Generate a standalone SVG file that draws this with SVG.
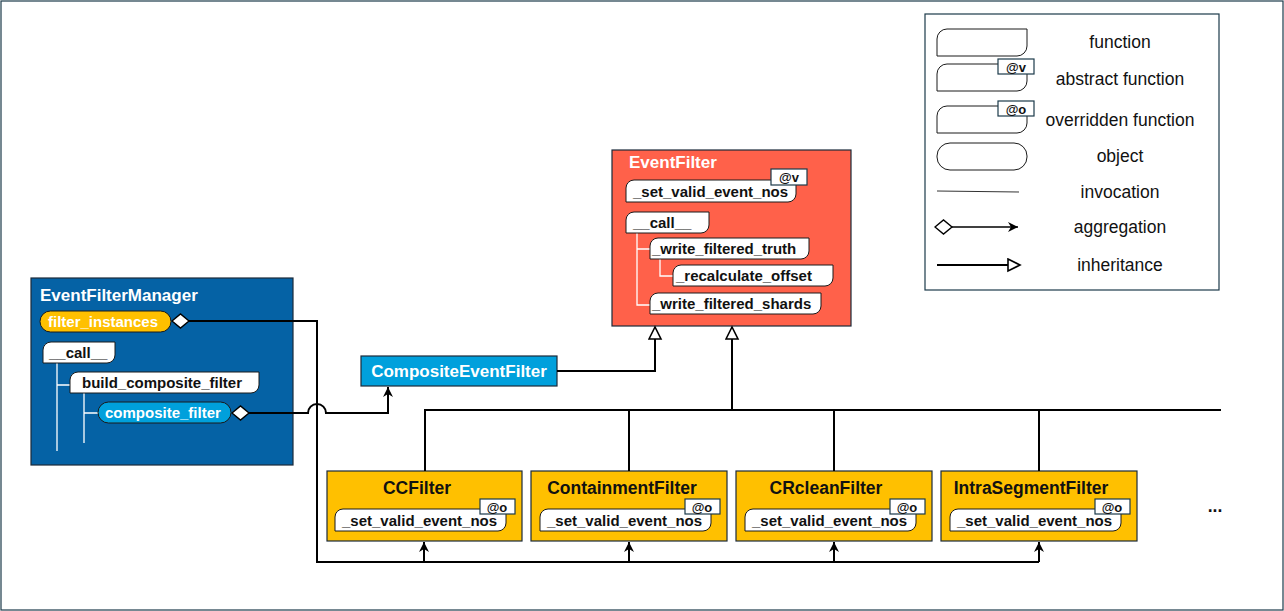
<svg xmlns="http://www.w3.org/2000/svg" width="1284" height="611" viewBox="0 0 1284 611">
<style>
text{font-family:"Liberation Sans",Arial,sans-serif;}
.t{font-weight:bold;font-size:17px;fill:#fff;}
.tb{font-weight:bold;font-size:17.5px;fill:#111;}
.f{font-weight:bold;font-size:15px;fill:#111;}
.fw{font-weight:bold;font-size:15px;fill:#fff;}
.fn{fill:#fff;stroke:#1a1a1a;stroke-width:1;}
.tag{fill:#fff;stroke:#1c3a4a;stroke-width:1.2;}
.tg{font-weight:bold;font-size:13px;fill:#111;}
.wl{fill:none;stroke:#fff;stroke-width:1.3;}
.c{fill:none;stroke:#000;stroke-width:2;}
.box{stroke:#1c2a3a;stroke-width:1.2;}
.lg{font-size:17.5px;fill:#111;}
</style>
<defs>
<marker id="tri" markerUnits="userSpaceOnUse" markerWidth="16" markerHeight="16" refX="13" refY="7" orient="auto"><path d="M1,1 L13,7 L1,13 Z" fill="#fff" stroke="#000" stroke-width="1.6"/></marker>
<marker id="arr" markerUnits="userSpaceOnUse" markerWidth="12" markerHeight="12" refX="10" refY="5" orient="auto"><path d="M0,0 L10,5 L0,10 L3,5 Z" fill="#000"/></marker>
<marker id="dia" markerUnits="userSpaceOnUse" markerWidth="20" markerHeight="18" refX="1" refY="8" orient="auto"><path d="M1,8 L9.5,1 L18,8 L9.5,15 Z" fill="#fff" stroke="#000" stroke-width="1.4"/></marker>
</defs>
<rect x="1" y="1" width="1282" height="609" fill="#fff" stroke="#1c3a4a" stroke-width="1.2"/>

<g id="EventFilterManager">
<rect class="box" x="31" y="278" width="262" height="187" fill="#0562A5"/>
<text class="t" x="40" y="301">EventFilterManager</text>
<rect x="40" y="311" width="131" height="21" rx="10.5" fill="#FFC000" stroke="#1a1a1a" stroke-width="1"/>
<text class="fw" x="48" y="326.5">filter_instances</text>
<path class="wl" d="M57,363 V451 M57,385 H70 M84,393 V443 M84,413 H98"/>
<path class="fn" d="M51,342 H115 V355 A8,8 0 0 1 107,363 H43 V350 A8,8 0 0 1 51,342 Z"/>
<text class="f" x="49" y="358">__call__</text>
<path class="fn" d="M78,372 H259 V385 A8,8 0 0 1 251,393 H70 V380 A8,8 0 0 1 78,372 Z"/>
<text class="f" x="82" y="388">build_composite_filter</text>
<rect x="98" y="402" width="133" height="21" rx="10.5" fill="#00A0DC" stroke="#1a1a1a" stroke-width="1"/>
<text class="fw" x="105" y="418">composite_filter</text>
</g>

<g id="CompositeEventFilter">
<rect class="box" x="361" y="356" width="196" height="30" fill="#00A0DC"/>
<text class="t" x="459" y="377" text-anchor="middle">CompositeEventFilter</text>
</g>

<g id="EventFilter">
<rect class="box" x="612" y="150" width="239" height="176" fill="#FF614A"/>
<text class="t" x="629" y="168">EventFilter</text>
<path class="wl" d="M637,233 V305 H650 M637,249 H650 M660,259 V276 H673"/>
<path class="fn" d="M634,180 H796 V194 A8,8 0 0 1 788,202 H626 V188 A8,8 0 0 1 634,180 Z"/>
<rect class="tag" x="771" y="169" width="36" height="16"/>
<text class="tg" x="789" y="181.5" text-anchor="middle">@v</text>
<text class="f" x="633" y="197">_set_valid_event_nos</text>
<path class="fn" d="M634,212 H709 V225 A8,8 0 0 1 701,233 H626 V220 A8,8 0 0 1 634,212 Z"/>
<text class="f" x="633" y="228">__call__</text>
<path class="fn" d="M658,238 H809 V251 A8,8 0 0 1 801,259 H650 V246 A8,8 0 0 1 658,238 Z"/>
<text class="f" x="652" y="254">_write_filtered_truth</text>
<path class="fn" d="M681,265 H833 V278 A8,8 0 0 1 825,286 H673 V273 A8,8 0 0 1 681,265 Z"/>
<text class="f" x="676" y="281">_recalculate_offset</text>
<path class="fn" d="M658,293 H821 V306 A8,8 0 0 1 813,314 H650 V301 A8,8 0 0 1 658,293 Z"/>
<text class="f" x="652" y="309">_write_filtered_shards</text>
</g>

<g id="CCFilter">
<rect class="box" x="327" y="471" width="195" height="70" fill="#FFC000"/>
<text class="tb" x="417" y="494" text-anchor="middle">CCFilter</text>
<path class="fn" d="M343,509 H506 V523 A8,8 0 0 1 498,531 H335 V517 A8,8 0 0 1 343,509 Z"/>
<rect class="tag" x="480" y="499" width="35" height="15"/>
<text class="tg" x="497" y="511.5" text-anchor="middle">@o</text>
<text class="f" x="342" y="526">_set_valid_event_nos</text>
</g>
<g id="ContainmentFilter">
<rect class="box" x="531" y="471" width="196" height="70" fill="#FFC000"/>
<text class="tb" x="622" y="494" text-anchor="middle">ContainmentFilter</text>
<path class="fn" d="M548,509 H711 V523 A8,8 0 0 1 703,531 H540 V517 A8,8 0 0 1 548,509 Z"/>
<rect class="tag" x="685" y="499" width="35" height="15"/>
<text class="tg" x="702" y="511.5" text-anchor="middle">@o</text>
<text class="f" x="547" y="526">_set_valid_event_nos</text>
</g>
<g id="CRcleanFilter">
<rect class="box" x="736" y="471" width="196" height="70" fill="#FFC000"/>
<text class="tb" x="826" y="494" text-anchor="middle">CRcleanFilter</text>
<path class="fn" d="M753,509 H916 V523 A8,8 0 0 1 908,531 H745 V517 A8,8 0 0 1 753,509 Z"/>
<rect class="tag" x="890" y="499" width="35" height="15"/>
<text class="tg" x="907" y="511.5" text-anchor="middle">@o</text>
<text class="f" x="752" y="526">_set_valid_event_nos</text>
</g>
<g id="IntraSegmentFilter">
<rect class="box" x="941" y="471" width="196" height="70" fill="#FFC000"/>
<text class="tb" x="1031" y="494" text-anchor="middle">IntraSegmentFilter</text>
<path class="fn" d="M958,509 H1121 V523 A8,8 0 0 1 1113,531 H950 V517 A8,8 0 0 1 958,509 Z"/>
<rect class="tag" x="1095" y="499" width="35" height="15"/>
<text class="tg" x="1112" y="511.5" text-anchor="middle">@o</text>
<text class="f" x="957" y="526">_set_valid_event_nos</text>
</g>
<g id="more"><text class="tb" x="1215" y="512" text-anchor="middle">...</text></g>

<g id="connectors">
<path class="c" d="M172,321 H317 V562 H1039" marker-start="url(#dia)"/>
<path class="c" d="M424,562 V542" marker-end="url(#arr)"/>
<path class="c" d="M629,562 V542" marker-end="url(#arr)"/>
<path class="c" d="M834,562 V542" marker-end="url(#arr)"/>
<path class="c" d="M1039,562 V542" marker-end="url(#arr)"/>
<path class="c" d="M232,413 H308 A9,9 0 0 1 326,413 H388 V387" marker-start="url(#dia)" marker-end="url(#arr)"/>
<path class="c" d="M557,371 H655 V327" marker-end="url(#tri)"/>
<path class="c" d="M425,471 V410 H1221 M629,471 V410 M834,471 V410 M1039,471 V410"/>
<path class="c" d="M732,410 V327" marker-end="url(#tri)"/>
</g>

<g id="legend">
<rect x="925" y="14" width="294" height="276" fill="#fff" stroke="#1c3a4a" stroke-width="1.2"/>
<path class="fn" d="M947,29 H1027 V46 A10,10 0 0 1 1017,56 H937 V39 A10,10 0 0 1 947,29 Z"/>
<text class="lg" x="1120" y="48" text-anchor="middle">function</text>
<path class="fn" d="M947,64 H1027 V81 A10,10 0 0 1 1017,91 H937 V74 A10,10 0 0 1 947,64 Z"/>
<rect class="tag" x="998" y="59" width="36" height="15"/>
<text class="tg" x="1016" y="71.5" text-anchor="middle">@v</text>
<text class="lg" x="1120" y="85" text-anchor="middle">abstract function</text>
<path class="fn" d="M947,106 H1027 V123 A10,10 0 0 1 1017,133 H937 V116 A10,10 0 0 1 947,106 Z"/>
<rect class="tag" x="998" y="101" width="36" height="15"/>
<text class="tg" x="1016" y="113.5" text-anchor="middle">@o</text>
<text class="lg" x="1120" y="126" text-anchor="middle">overridden function</text>
<rect class="fn" x="937" y="143" width="90" height="27" rx="13"/>
<text class="lg" x="1120" y="162" text-anchor="middle">object</text>
<line x1="937" y1="191" x2="1019" y2="192" stroke="#333" stroke-width="1"/>
<text class="lg" x="1120" y="198" text-anchor="middle">invocation</text>
<path class="c" d="M935,227 H1018" marker-start="url(#dia)" marker-end="url(#arr)" style="stroke-width:1.6"/>
<text class="lg" x="1120" y="233" text-anchor="middle">aggregation</text>
<path class="c" d="M937,265 H1020" marker-end="url(#tri)"/>
<text class="lg" x="1120" y="271" text-anchor="middle">inheritance</text>
</g>
</svg>
